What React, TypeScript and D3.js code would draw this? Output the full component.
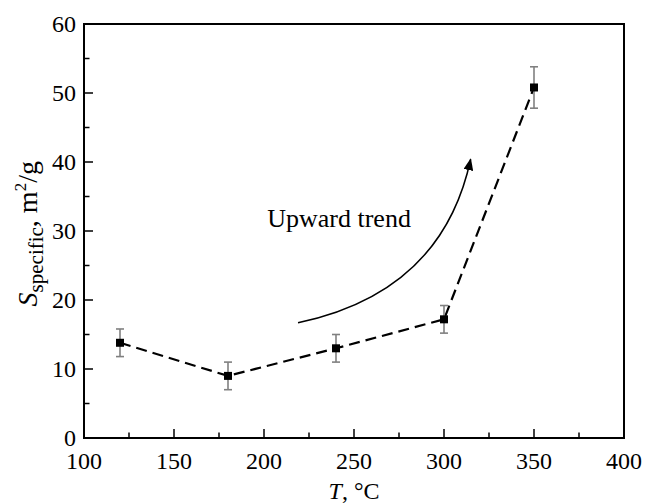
import React from "react";
import * as d3 from "d3";

// temperature, °C
const temps = [120, 180, 240, 300, 350];
// specific surface, m2/g
const surface = [13.8, 9.0, 13.0, 17.2, 50.8];
const errors = [2.0, 2.0, 2.0, 2.0, 3.0];

const xTicks = [100, 150, 200, 250, 300, 350, 400];
const yTicks = [0, 10, 20, 30, 40, 50, 60];

// annotation arrow in data units: start, control, end
const arrowStart = [218.9, 16.7];
const arrowCtrl = [298.9, 21.1];
const arrowEnd = [314.8, 40.4];
const notePos = [201.8, 30.6];

const W = 645;
const H = 503;
const FONT = "'Liberation Serif', 'Times New Roman', serif";

export default function App() {
  const x = d3.scaleLinear().domain([100, 400]).range([84, 624]);
  const y = d3.scaleLinear().domain([0, 60]).range([438, 24]);

  const line = d3
    .line<number>()
    .x((_, i) => x(temps[i]))
    .y((d) => y(d));

  const minorX = d3.range(100, 401, 25).filter((v) => v % 50 !== 0);
  const minorY = d3.range(0, 61, 5).filter((v) => v % 10 !== 0);

  const p = d3.path();
  p.moveTo(x(arrowStart[0]), y(arrowStart[1]));
  p.quadraticCurveTo(x(arrowCtrl[0]), y(arrowCtrl[1]), x(arrowEnd[0]), y(arrowEnd[1]));

  const [x0, y0] = [x(d3.min(xTicks)!), y(0)];
  const [x1, y1] = [x(d3.max(xTicks)!), y(60)];

  return (
    <svg
      width={W}
      height={H}
      style={{ position: "absolute", left: 0, top: 0, background: "#fff" }}
      fontFamily={FONT}
    >
      <defs>
        <marker
          id="head"
          viewBox="0 0 12 10"
          refX="11"
          refY="5"
          markerWidth="12"
          markerHeight="10"
          markerUnits="userSpaceOnUse"
          orient="auto"
        >
          <path d="M0,0 L12,5 L0,10 Z" fill="#000" />
        </marker>
      </defs>

      {/* ticks */}
      {xTicks.map((t) => (
        <line key={"xt" + t} x1={x(t)} x2={x(t)} y1={y0} y2={y0 - 9} stroke="#000" strokeWidth={1.5} />
      ))}
      {minorX.map((t) => (
        <line key={"xm" + t} x1={x(t)} x2={x(t)} y1={y0} y2={y0 - 5.5} stroke="#000" strokeWidth={1.5} />
      ))}
      {yTicks.map((t) => (
        <line key={"yt" + t} x1={x0} x2={x0 + 9} y1={y(t)} y2={y(t)} stroke="#000" strokeWidth={1.5} />
      ))}
      {minorY.map((t) => (
        <line key={"ym" + t} x1={x0} x2={x0 + 5.5} y1={y(t)} y2={y(t)} stroke="#000" strokeWidth={1.5} />
      ))}

      {/* frame */}
      <rect x={x0} y={y1} width={x1 - x0} height={y0 - y1} fill="none" stroke="#000" strokeWidth={2} />

      {/* tick labels */}
      {xTicks.map((t) => (
        <text key={"xl" + t} x={x(t)} y={469} fontSize={24} textAnchor="middle">
          {t}
        </text>
      ))}
      {yTicks.map((t) => (
        <text key={"yl" + t} x={x0 - 8} y={y(t) + 8} fontSize={24} textAnchor="end">
          {t}
        </text>
      ))}

      {/* axis titles */}
      <text x={x(250)} y={499} fontSize={24} textAnchor="middle">
        <tspan fontStyle="italic">T</tspan>, °C
      </text>
      <text
        transform={`translate(37, ${y(29.6)}) rotate(-90)`}
        fontSize={28}
        textAnchor="middle"
      >
        <tspan fontStyle="italic">S</tspan>
        <tspan fontSize={21} dy={6}>specific</tspan>
        <tspan dy={-6}>, m</tspan>
        <tspan fontSize={17} dy={-11}>2</tspan>
        <tspan dy={11}>/g</tspan>
      </text>

      {/* dashed trend line */}
      <path d={line(surface) || ""} fill="none" stroke="#000" strokeWidth={2.2} strokeDasharray="11 6" />

      {/* error bars */}
      {temps.map((t, i) => (
        <g key={"e" + t} stroke="#808080" strokeWidth={1.6}>
          <line x1={x(t)} x2={x(t)} y1={y(surface[i] - errors[i])} y2={y(surface[i] + errors[i])} />
          <line x1={x(t) - 4} x2={x(t) + 4} y1={y(surface[i] + errors[i])} y2={y(surface[i] + errors[i])} />
          <line x1={x(t) - 4} x2={x(t) + 4} y1={y(surface[i] - errors[i])} y2={y(surface[i] - errors[i])} />
        </g>
      ))}

      {/* markers */}
      {temps.map((t, i) => (
        <rect key={"m" + t} x={x(t) - 4} y={y(surface[i]) - 4} width={8} height={8} fill="#000" />
      ))}

      {/* annotation */}
      <path d={p.toString()} fill="none" stroke="#000" strokeWidth={1.5} markerEnd="url(#head)" />
      <text x={x(notePos[0])} y={y(notePos[1])} fontSize={26}>
        Upward trend
      </text>
    </svg>
  );
}
